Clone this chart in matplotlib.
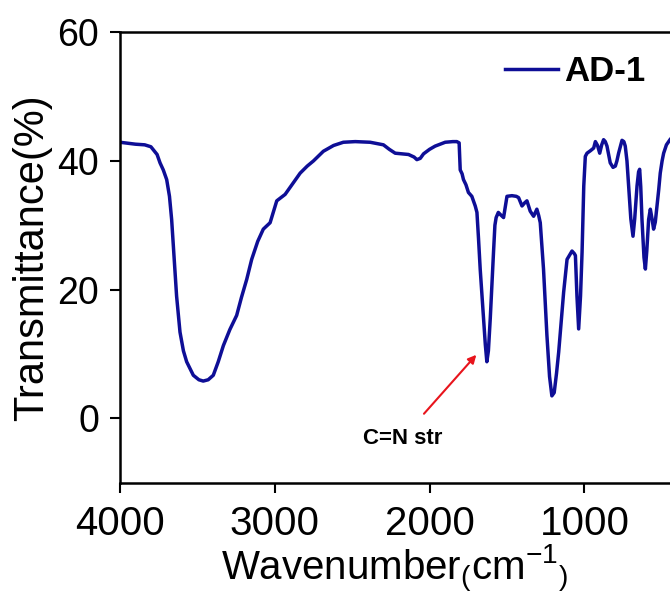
# FTIR spectrum of AD-1 with the C=N stretch marked

import matplotlib.pyplot as plt
import numpy as np

plt.rcParams['font.family'] = ['Liberation Sans', 'DejaVu Sans']
plt.rcParams['mathtext.fontset'] = 'custom'
plt.rcParams['mathtext.rm'] = 'Liberation Sans'
plt.rcParams['mathtext.it'] = 'Liberation Sans'

# Wavenumber (cm-1) and transmittance (%)
wavenumber = [
    4000, 3900, 3840, 3800, 3760, 3741, 3720, 3698, 3680, 3666, 3650, 3634,
    3612, 3590, 3569, 3526, 3490, 3462, 3430, 3397, 3365, 3332, 3290, 3246,
    3215, 3181, 3149, 3110, 3074, 3030, 2987, 2933, 2880, 2836, 2790, 2750,
    2686, 2620, 2557, 2480, 2384, 2298, 2260, 2222, 2136, 2100, 2082, 2060,
    2039, 2000, 1964, 1899, 1850, 1824, 1809, 1802, 1790, 1781, 1765, 1749,
    1727, 1705, 1694, 1684, 1673, 1660, 1651, 1640, 1630, 1620, 1608, 1597,
    1587, 1578, 1570, 1556, 1544, 1522, 1500, 1468, 1440, 1425, 1403, 1385,
    1371, 1350, 1328, 1307, 1295, 1285, 1264, 1242, 1225, 1210, 1195, 1180,
    1166, 1150, 1134, 1112, 1080, 1065, 1058, 1048, 1037, 1025, 1015, 1004,
    994, 983, 960, 940, 929, 915, 901, 888, 876, 865, 854, 833,
    815, 800, 790, 779, 757, 745, 736, 725, 714, 700, 686, 675,
    660, 650, 643, 636, 628, 615, 606, 597, 585, 574, 563, 553,
    542, 531, 520, 510, 498, 488, 470, 447,
]
transmittance = [
    42.9, 42.6, 42.5, 42.2, 41.0, 39.7, 38.6, 37.1, 34.5, 30.9, 25.0, 19.0,
    13.4, 10.5, 8.8, 6.7, 6.0, 5.8, 6.0, 6.7, 8.8, 11.3, 13.8, 16.0,
    18.8, 21.6, 24.7, 27.5, 29.4, 30.4, 33.8, 34.8, 36.6, 38.1, 39.2, 40.0,
    41.5, 42.4, 42.9, 43.0, 42.9, 42.5, 41.8, 41.2, 41.0, 40.6, 40.2, 40.4,
    41.1, 41.8, 42.3, 42.9, 43.0, 43.0, 42.8, 38.6, 38.0, 37.1, 36.3, 35.1,
    34.5, 33.0, 32.0, 28.0, 23.2, 18.5, 15.5, 11.5, 8.8, 10.5, 15.5, 21.0,
    25.8, 30.0, 31.2, 32.0, 31.7, 31.2, 34.5, 34.6, 34.5, 34.3, 33.0, 33.5,
    33.8, 32.2, 31.4, 32.5, 31.5, 30.4, 23.2, 12.9, 6.5, 3.5, 4.0, 7.0,
    10.3, 15.0, 19.6, 24.7, 26.0, 25.6, 25.3, 19.0, 13.9, 19.0, 25.8, 36.1,
    40.7, 41.2, 41.6, 42.0, 43.0, 42.4, 41.2, 42.5, 43.3, 43.0, 42.3, 39.7,
    39.0, 39.2, 40.0, 41.2, 43.2, 43.0, 42.3, 40.0, 36.1, 31.0, 28.3, 31.0,
    36.1, 38.3, 38.7, 36.0, 30.9, 25.0, 23.2, 26.0, 30.9, 32.5, 31.0, 29.4,
    30.5, 33.0, 35.5, 38.1, 40.0, 41.2, 42.5, 43.3,
]

x_ticks = [4000, 3000, 2000, 1000]
y_ticks = [0, 20, 40, 60]

fig = plt.figure(figsize=(6.7, 5.96), dpi=100)
ax = fig.add_axes([0.179, 0.19, 0.821, 0.756])

ax.plot(wavenumber, transmittance, color='#0e0e96', lw=2.5, label='AD-1')

ax.set_xlim(4000, 447)
ax.set_ylim(-10, 60)
ax.set_xticks(x_ticks)
ax.set_yticks(y_ticks)
ax.tick_params(axis='both', direction='out', length=7, width=1.5, labelsize=27, pad=8)
ax.tick_params(axis='x', labelsize=29, pad=9)

for side in ['left', 'bottom', 'top']:
    ax.spines[side].set_linewidth(1.8)
ax.spines['right'].set_visible(False)

ax.set_xlabel('Wavenumber$_{(}$cm$^{-1}$$_{)}$', fontsize=29, labelpad=0)
ax.set_ylabel('Transmittance(%)', fontsize=30, labelpad=4)

# C=N stretch label with red arrow
ax.annotate('', xy=(1686, 10.2), xytext=(2048, 0.4),
            arrowprops=dict(arrowstyle='-|>', color='#e8141c', lw=1.5,
                            mutation_scale=12))
ax.text(2171, -3.2, 'C=N str', fontsize=16, fontweight='bold', ha='center', va='center')

leg = ax.legend(loc='upper right', bbox_to_anchor=(0.986, 0.987), frameon=False,
                handlelength=1.55, handletextpad=0.15, borderpad=0,
                prop={'size': 25, 'weight': 'bold'})

fig.savefig('out.png', dpi=100)
